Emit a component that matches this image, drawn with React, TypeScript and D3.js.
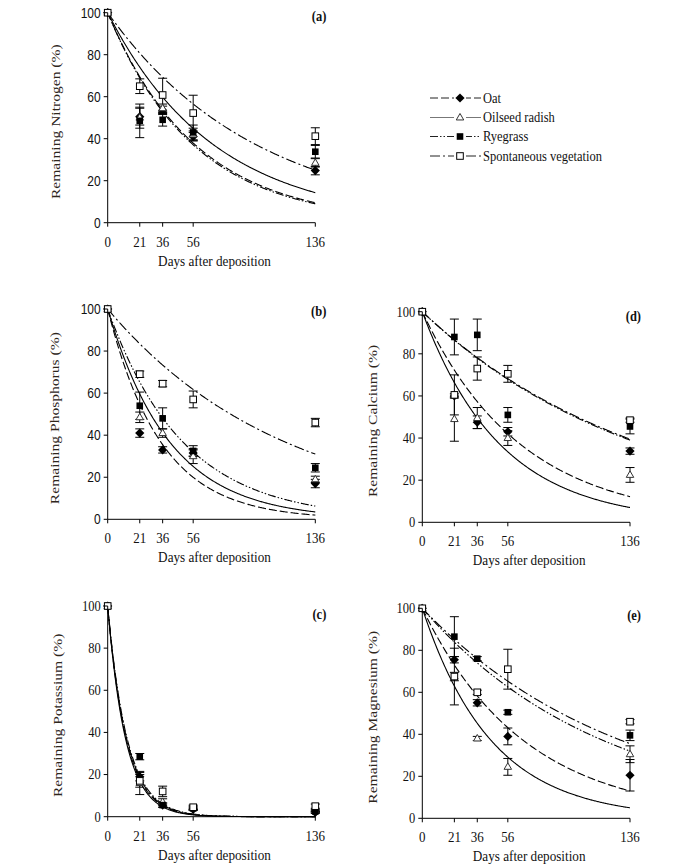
import React from "react";
import * as d3 from "d3";

// ---------- data ----------
const DAYS = [0, 21, 36, 56, 136];
const Y_TICKS = [0, 20, 40, 60, 80, 100];
const SPECIES = ["Oat", "Oilseed radish", "Ryegrass", "Spontaneous vegetation"];

// rows: Oat, Oilseed radish, Ryegrass, Spontaneous vegetation
const NITROGEN = [
  [100, 50.5, 53.5, 41, 24.8],
  [100, 50, 54.5, 42, 28.5],
  [100, 48.5, 49, 43, 33.8],
  [100, 65, 60.8, 52.2, 41.2],
];
const NITROGEN_ERR = [
  [0, 4, 2, 2, 2],
  [0, 5, 2, 3, 2],
  [0, 8, 3, 3.5, 3],
  [0, 3.5, 8, 8.5, 4],
];
const NITROGEN_K = [0.01731, 0.0143, 0.01771, 0.01019];

const PHOSPHORUS = [
  [100, 41, 33, 31.5, 17],
  [100, 48.5, 41, 30, 19],
  [100, 54, 48, 32.5, 24.5],
  [100, 69, 64.5, 57, 46],
];
const PHOSPHORUS_ERR = [
  [0, 2, 1.5, 1.5, 2],
  [0, 2.5, 2, 3.5, 1.5],
  [0, 6.5, 5, 2.5, 2],
  [0, 1.5, 1.5, 4, 2],
];
const PHOSPHORUS_K = [0.02877, 0.02465, 0.02033, 0.00861];

const POTASSIUM = [
  [100, 19, 5.5, 3.5, 2],
  [100, 16, 7, 4, 3],
  [100, 28.5, 5.5, 4, 2.5],
  [100, 17, 12, 4.5, 5],
];
const POTASSIUM_ERR = [
  [0, 2, 1, 0.5, 0.5],
  [0, 5.5, 1.5, 1, 0.5],
  [0, 1.5, 1, 0.5, 0.5],
  [0, 3, 2.5, 1, 1],
];
const POTASSIUM_K = [0.082, 0.085, 0.078, 0.08];

const CALCIUM = [
  [100, 60, 47.5, 43, 33.8],
  [100, 49, 49.5, 40, 22.5],
  [100, 88, 89, 51, 45.5],
  [100, 60.5, 73, 70.5, 48.5],
];
const CALCIUM_ERR = [
  [0, 1, 3, 2, 1.5],
  [0, 10.5, 5, 3.5, 3.5],
  [0, 8.5, 7.5, 3.5, 3.5],
  [0, 9.5, 5.5, 4, 1],
];
const CALCIUM_K = [0.01547, 0.01955, 0.00692, 0.00683];

const MAGNESIUM = [
  [100, 75.5, 55, 39, 20.5],
  [100, 67.5, 38, 24.5, 30.5],
  [100, 86.5, 76, 50.5, 39.5],
  [100, 67.5, 60, 71, 46],
];
const MAGNESIUM_ERR = [
  [0, 1.5, 1.5, 4, 7.5],
  [0, 13.5, 1, 4, 4],
  [0, 9.5, 1, 1, 2.5],
  [0, 2, 1, 9.5, 1],
];
const MAGNESIUM_K = [0.015, 0.02203, 0.00838, 0.00761];

// ---------- styles / layout ----------
const SERIF = "'Liberation Serif', 'Times New Roman', serif";
const SANS = "'Liberation Sans', Arial, sans-serif";
const SY = 1.18;
const DASH = ["8,3", "", "8,2,1.5,2,1.5,2", "10,3,2,3"];
const MARKERS = ["diamond", "triangle", "squareFilled", "squareOpen"];

const PANELS = [
  { tag: "(a)", label: "Remaining Nitrogen (%)", means: NITROGEN, errs: NITROGEN_ERR, k: NITROGEN_K,
    x0: 107.7, x1: 315.3, yTop: 12.7, yBot: 222.7, labelX: 55, tagY: 21, sans: true },
  { tag: "(b)", label: "Remaining Phosphorus (%)", means: PHOSPHORUS, errs: PHOSPHORUS_ERR, k: PHOSPHORUS_K,
    x0: 107.7, x1: 315.3, yTop: 309, yBot: 519.3, labelX: 54, tagY: 316, sans: true },
  { tag: "(c)", label: "Remaining Potassium (%)", means: POTASSIUM, errs: POTASSIUM_ERR, k: POTASSIUM_K,
    x0: 107.7, x1: 315.3, yTop: 606, yBot: 816.7, labelX: 57, tagY: 619, sans: false },
  { tag: "(d)", label: "Remaining Calcium (%)", means: CALCIUM, errs: CALCIUM_ERR, k: CALCIUM_K,
    x0: 422.3, x1: 630, yTop: 311.7, yBot: 522.3, labelX: 372, tagY: 321, sans: false },
  { tag: "(e)", label: "Remaining Magnesium (%)", means: MAGNESIUM, errs: MAGNESIUM_ERR, k: MAGNESIUM_K,
    x0: 422.3, x1: 630, yTop: 608.3, yBot: 818.3, labelX: 372, tagY: 620, sans: false },
];

function T({ x, y, children, anchor = "start", size = 13, weight = "normal", family = SERIF, rotate = false, fill = "#111" }: any) {
  const tr = `translate(${x},${y}) scale(1,${SY})` + (rotate ? " rotate(-90)" : "");
  return (
    <text transform={tr} textAnchor={anchor} fontSize={size} fontWeight={weight} fontFamily={family} fill={fill}>
      {children}
    </text>
  );
}

function Marker({ kind, x, y }: { kind: string; x: number; y: number }) {
  if (kind === "diamond") {
    const r = 4.6;
    return <path d={`M${x},${y - r}L${x + r},${y}L${x},${y + r}L${x - r},${y}Z`} fill="#000" />;
  }
  if (kind === "triangle") {
    const s = 7.5;
    const h = (s * Math.sqrt(3)) / 2;
    return (
      <path d={`M${x},${y - h * 0.62}L${x + s / 2},${y + h * 0.38}L${x - s / 2},${y + h * 0.38}Z`}
        fill="#fff" stroke="#333" strokeWidth={1} />
    );
  }
  const s = 6.6;
  if (kind === "squareFilled") {
    return <rect x={x - s / 2} y={y - s / 2} width={s} height={s} fill="#000" />;
  }
  return <rect x={x - s / 2} y={y - s / 2} width={s} height={s} fill="#fff" stroke="#000" strokeWidth={1} />;
}

function Panel({ p }: { p: any }) {
  const x = d3.scaleLinear().domain([0, 136]).range([p.x0, p.x1]);
  const y = d3.scaleLinear().domain([0, 100]).range([p.yBot, p.yTop]);
  const t = d3.range(0, 136.5, 0.5);
  const line = d3.line<number>().x((d) => x(d)).y((d, i) => 0);
  const cx = (p.x0 + p.x1) / 2 + 3;
  return (
    <g>
      {/* fitted decay curves */}
      {p.k.map((k: number, si: number) => {
        const gen = d3.line<number>().x((d) => x(d)).y((d) => y(100 * Math.exp(-k * d)));
        return (
          <path key={si} d={gen(t) || ""} fill="none" stroke="#000" strokeWidth={1.1}
            strokeDasharray={DASH[si] || undefined} />
        );
      })}
      {/* error bars */}
      {p.means.map((row: number[], si: number) =>
        row.map((m, di) => {
          const e = p.errs[si][di];
          if (!e) return null;
          const xx = x(DAYS[di]);
          return (
            <g key={`e${si}-${di}`} stroke="#000" strokeWidth={1}>
              <line x1={xx} x2={xx} y1={y(m - e)} y2={y(m + e)} />
              <line x1={xx - 4.5} x2={xx + 4.5} y1={y(m - e)} y2={y(m - e)} />
              <line x1={xx - 4.5} x2={xx + 4.5} y1={y(m + e)} y2={y(m + e)} />
            </g>
          );
        })
      )}
      {/* markers */}
      {p.means.map((row: number[], si: number) =>
        row.map((m, di) => <Marker key={`m${si}-${di}`} kind={MARKERS[si]} x={x(DAYS[di])} y={y(m)} />)
      )}
      {/* axes */}
      <g stroke="#000" strokeWidth={1}>
        <line x1={p.x0} x2={p.x0} y1={p.yTop} y2={p.yBot} />
        <line x1={p.x0} x2={p.x1} y1={p.yBot} y2={p.yBot} />
        {Y_TICKS.map((v) => (
          <line key={`yt${v}`} x1={p.x0 - 4} x2={p.x0} y1={y(v)} y2={y(v)} />
        ))}
        {DAYS.map((d) => (
          <line key={`xt${d}`} x1={x(d)} x2={x(d)} y1={p.yBot} y2={p.yBot + 4} />
        ))}
      </g>
      {Y_TICKS.map((v) => (
        <T key={`yl${v}`} x={p.x0 - 7} y={y(v) + 4.8} anchor="end" size={p.sans ? 12 : 12.5}
          family={p.sans ? SANS : SERIF}>{v}</T>
      ))}
      {DAYS.map((d) => (
        <T key={`xl${d}`} x={x(d)} y={p.yBot + 24} anchor="middle" size={13}>{d}</T>
      ))}
      <T x={cx} y={p.yBot + 43} anchor="middle" size={13.2}>Days after deposition</T>
      <T x={p.labelX + 5} y={(p.yTop + p.yBot) / 2 + 4} anchor="middle" size={13.2} rotate fill="#2e261c">{p.label}</T>
      <T x={p.x1 + 11} y={p.tagY} anchor="end" size={12.5} weight="bold">{p.tag}</T>
    </g>
  );
}

function Legend() {
  const ys = [98, 117.5, 136.5, 156];
  return (
    <g>
      {SPECIES.map((s, i) => (
        <g key={s}>
          <line x1={430} x2={481} y1={ys[i]} y2={ys[i]} stroke={i === 1 ? "#777" : "#222"} strokeWidth={1}
            strokeDasharray={DASH[i] || undefined} />
          <rect x={454} y={ys[i] - 5} width={12} height={10} fill="#fff" />
          <Marker kind={MARKERS[i]} x={460} y={ys[i]} />
          <T x={483} y={ys[i] + 4.5} size={12.5}>{s}</T>
        </g>
      ))}
    </g>
  );
}

export default function App() {
  return (
    <svg width={689} height={864} style={{ position: "absolute", left: 0, top: 0, background: "#fff" }}>
      <rect width={689} height={864} fill="#fff" />
      {PANELS.map((p) => (
        <Panel key={p.tag} p={p} />
      ))}
      <Legend />
    </svg>
  );
}
